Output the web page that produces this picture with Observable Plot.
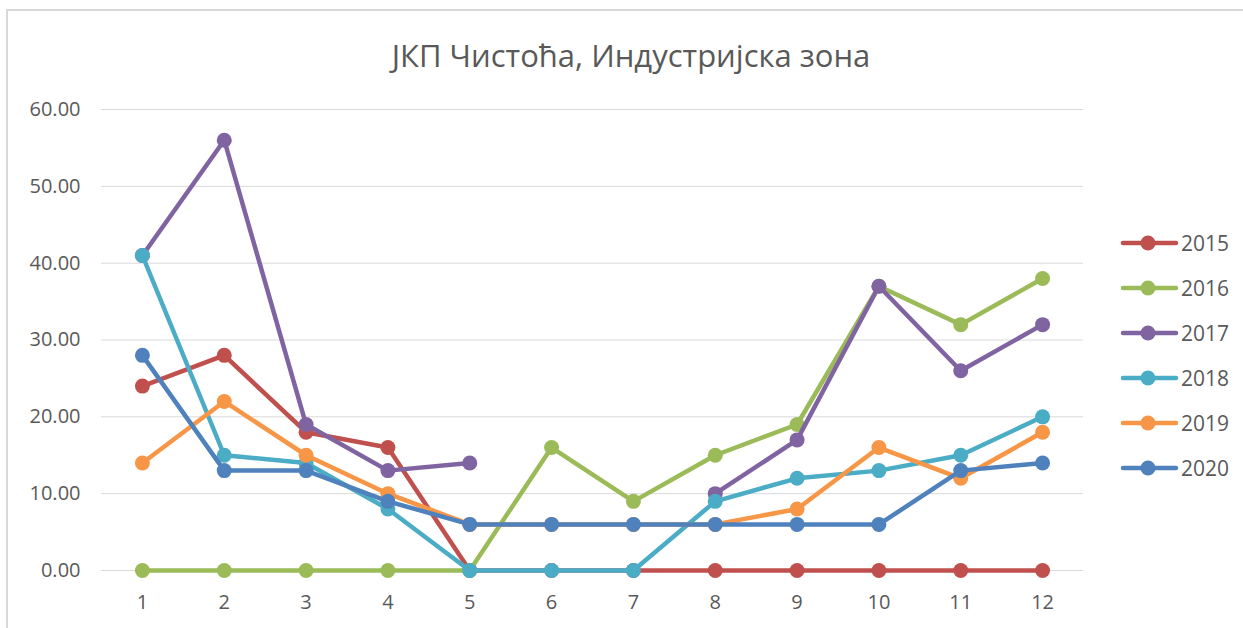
<!DOCTYPE html>
<html>
<head>
<meta charset="utf-8">
<script src="https://cdn.jsdelivr.net/npm/d3@7"></script>
<script src="https://cdn.jsdelivr.net/npm/@observablehq/plot@0.6"></script>
<style>
  html, body { margin: 0; padding: 0; background: #fff; }
  body { width: 1243px; height: 628px; position: relative; overflow: hidden; font-family: "Open Sans", sans-serif; }
  #frame { position: absolute; left: 6px; top: 9px; width: 1300px; height: 700px; border-top: 2px solid #d9d9d9; border-left: 2px solid #d9d9d9; }
  #chart { position: absolute; left: 0; top: 0; }
  #title { position: absolute; left: 0; width: 1262px; top: 34px; text-align: center; font-size: 31px; color: #595959; }
  #legend { position: absolute; left: 1120px; top: 0; }
  .item { position: absolute; left: 0; width: 123px; height: 30px; }
  .item svg { position: absolute; left: 0; top: 0; }
  .item span { position: absolute; left: 61px; top: 0px; font-size: 21px; color: #595959; line-height: 30px; }
</style>
</head>
<body>
<div id="frame"></div>
<div id="chart"></div>
<div id="title">ЈКП Чистоћа, Индустријска зона</div>
<div id="legend"></div>
<script>
const months = [1, 2, 3, 4, 5, 6, 7, 8, 9, 10, 11, 12];
const years = ["2015", "2016", "2017", "2018", "2019", "2020"];
const colors = ["#C0504D", "#9BBB59", "#8064A2", "#4BACC6", "#F79646", "#4F81BD"];
const v2015 = [24, 28, 18, 16, 0, 0, 0, 0, 0, 0, 0, 0];
const v2016 = [0, 0, 0, 0, 0, 16, 9, 15, 19, 37, 32, 38];
const v2017 = [41, 56, 19, 13, 14, null, null, 10, 17, 37, 26, 32];
const v2018 = [41, 15, 14, 8, 0, 0, 0, 9, 12, 13, 15, 20];
const v2019 = [14, 22, 15, 10, 6, 6, 6, 6, 8, 16, 12, 18];
const v2020 = [28, 13, 13, 9, 6, 6, 6, 6, 6, 6, 13, 14];
const yTicks = [0, 10, 20, 30, 40, 50, 60];

const seriesValues = [v2015, v2016, v2017, v2018, v2019, v2020];
const data = [];
years.forEach((yr, i) => {
  months.forEach((m, j) => {
    data.push({year: yr, month: m, value: seriesValues[i][j]});
  });
});

const marks = [
  Plot.gridY(yTicks, {stroke: "#d9d9d9", strokeOpacity: 1, strokeWidth: 1})
];
years.forEach((yr, i) => {
  const d = data.filter(r => r.year === yr);
  marks.push(Plot.line(d, {x: "month", y: "value", stroke: colors[i], strokeWidth: 4.5, strokeLinecap: "round", strokeLinejoin: "round"}));
  marks.push(Plot.dot(d.filter(r => r.value != null), {x: "month", y: "value", fill: colors[i], r: 7.5}));
});
marks.push(Plot.axisY(yTicks, {tickSize: 0, tickPadding: 21, tickFormat: d => d.toFixed(2), fontSize: 20, fill: "#595959", label: null}));
marks.push(Plot.axisX(months, {tickSize: 0, tickPadding: 24, tickFormat: d => String(d), fontSize: 20, fill: "#595959", label: null}));

const chart = Plot.plot({
  width: 1243,
  height: 628,
  marginLeft: 101,
  marginRight: 160,
  marginTop: 109,
  marginBottom: 58,
  style: {background: "transparent", fontFamily: "Open Sans, sans-serif", overflow: "visible"},
  x: {domain: [0.5, 12.5], type: "linear", label: null},
  y: {domain: [0, 60], label: null},
  marks
});
document.getElementById("chart").appendChild(chart);

const legend = document.getElementById("legend");
years.forEach((yr, i) => {
  const cy = 243 + i * 45;
  const div = document.createElement("div");
  div.className = "item";
  div.style.top = (cy - 15) + "px";
  div.innerHTML = `<svg width="60" height="30"><line x1="3" x2="56" y1="15" y2="15" stroke="${colors[i]}" stroke-width="4.5" stroke-linecap="round"/><circle cx="28" cy="15" r="7.5" fill="${colors[i]}"/></svg><span>${yr}</span>`;
  legend.appendChild(div);
});
</script>
</body>
</html>
